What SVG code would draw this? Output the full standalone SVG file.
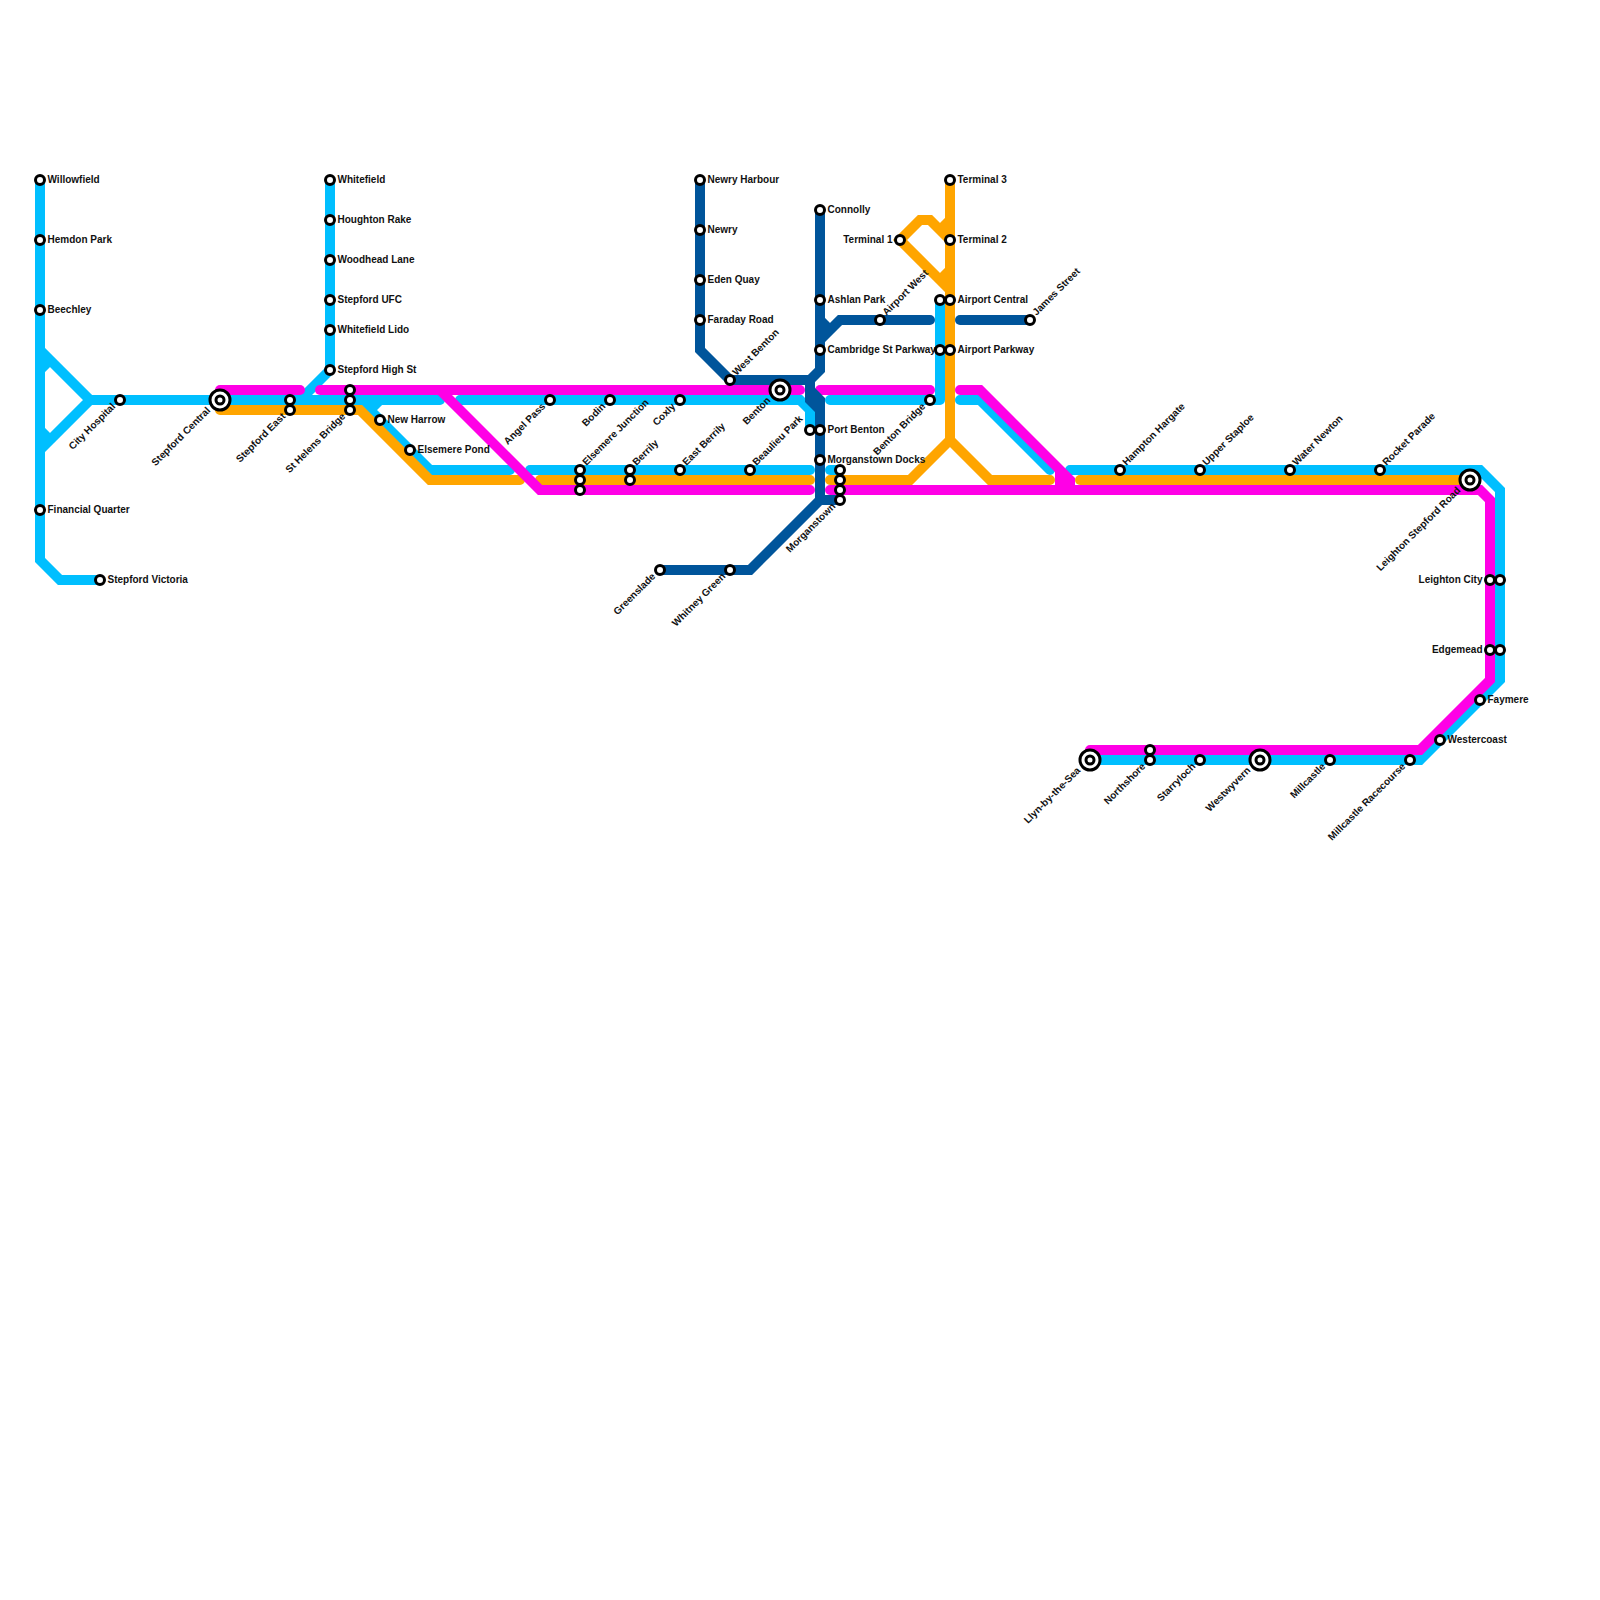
<svg xmlns="http://www.w3.org/2000/svg" width="1600" height="1600" viewBox="0 0 1600 1600">
<style>
.l{fill:none;stroke-width:10;stroke-linecap:round;stroke-linejoin:miter}
.j{stroke-linejoin:round}
.b{stroke:#00bfff}.o{stroke:#ffa500}.m{stroke:#ff00e6}.d{stroke:#00559b}
.s{fill:#fff;stroke:#000;stroke-width:3}
.i{fill:#fff;stroke:#000;stroke-width:3}
.c{fill:#fff;stroke:#000;stroke-width:3}
text{font-family:"Liberation Sans",Arial,sans-serif;font-weight:700;font-size:10px;fill:#111}
.e{text-anchor:end}
</style>
<rect width="1600" height="1600" fill="#fff"/>
<g id="connectors">
<g id="line-blue">
<path class="l b" d="M40 180V560L60 580H100"/>
<path class="l b" d="M40 350L90 400L40 450M40 370L50 360M40 430L50 440"/>
<path class="l b" d="M90 400H440"/>
<path class="l b" d="M330 180V370L300 400"/>
<path class="l b" d="M360 400L430 470H510M370 410L380 400"/>
<path class="l b" d="M460 400H800L810 410V430"/>
<path class="l b" d="M530 470H810"/>
<path class="l b" d="M830 470H840"/>
<path class="l b j" d="M830 400H940V300"/>
<path class="l b" d="M960 400H980L1050 470"/>
<path class="l b" d="M1070 470H1480L1500 490V680L1420 760H1090"/>
</g>
<g id="line-orange">
<path class="l o" d="M220 410H360L430 480H520"/>
<path class="l o" d="M540 480H810"/>
<path class="l o" d="M830 480H910L950 440L990 480H1050"/>
<path class="l o" d="M950 180V440"/>
<path class="l o" d="M950 240L930 220H920L900 240L950 290M950 220L940 230M950 270L940 280"/>
<path class="l o" d="M1080 480H1470"/>
</g>
<g id="line-magenta">
<path class="l m" d="M220 390H300"/>
<path class="l m" d="M320 390H800"/>
<path class="l m" d="M440 390L540 490H810"/>
<path class="l m" d="M820 390H930"/>
<path class="l m" d="M960 390H980L1070 480V490M1060 470V490"/>
<path class="l m" d="M830 490H1480L1490 500V680L1420 750H1090"/>
</g>
<g id="line-dark">
<path class="l d" d="M700 180V350L730 380H810L820 370V210"/>
<path class="l d" d="M820 340L840 320H930M820 320L830 330"/>
<path class="l d" d="M960 320H1030"/>
<path class="l d" d="M810 380V400L820 410"/>
<path class="l d" d="M810 390L820 400V500L750 570H660"/>
<path class="l d" d="M820 500H840"/>
</g>
</g>
<g id="nodes">
<g id="willowfield"><circle class="s" cx="40" cy="180" r="4.5"/><text x="47.5" y="182.5">Willowfield</text></g>
<g id="hemdon-park"><circle class="s" cx="40" cy="240" r="4.5"/><text x="47.5" y="242.5">Hemdon Park</text></g>
<g id="beechley"><circle class="s" cx="40" cy="310" r="4.5"/><text x="47.5" y="312.5">Beechley</text></g>
<g id="financial-quarter"><circle class="s" cx="40" cy="510" r="4.5"/><text x="47.5" y="512.5">Financial Quarter</text></g>
<g id="stepford-victoria"><circle class="s" cx="100" cy="580" r="4.5"/><text x="107.5" y="582.5">Stepford Victoria</text></g>
<g id="city-hospital"><circle class="s" cx="120" cy="400" r="4.5"/><text class="e" transform="translate(116 407) rotate(-45)">City Hospital</text></g>
<g id="stepford-central"><circle class="i" cx="220" cy="400" r="10"/><circle class="c" cx="220" cy="400" r="4"/><text class="e" transform="translate(211 411) rotate(-45)">Stepford Central</text></g>
<g id="stepford-east"><circle class="s" cx="290" cy="400" r="4.5"/><circle class="s" cx="290" cy="410" r="4.5"/><text class="e" transform="translate(286 417) rotate(-45)">Stepford East</text></g>
<g id="st-helens-bridge"><circle class="s" cx="350" cy="390" r="4.5"/><circle class="s" cx="350" cy="400" r="4.5"/><circle class="s" cx="350" cy="410" r="4.5"/><text class="e" transform="translate(346 417) rotate(-45)">St Helens Bridge</text></g>
<g id="whitefield"><circle class="s" cx="330" cy="180" r="4.5"/><text x="337.5" y="182.5">Whitefield</text></g>
<g id="houghton-rake"><circle class="s" cx="330" cy="220" r="4.5"/><text x="337.5" y="222.5">Houghton Rake</text></g>
<g id="woodhead-lane"><circle class="s" cx="330" cy="260" r="4.5"/><text x="337.5" y="262.5">Woodhead Lane</text></g>
<g id="stepford-ufc"><circle class="s" cx="330" cy="300" r="4.5"/><text x="337.5" y="302.5">Stepford UFC</text></g>
<g id="whitefield-lido"><circle class="s" cx="330" cy="330" r="4.5"/><text x="337.5" y="332.5">Whitefield Lido</text></g>
<g id="stepford-high-st"><circle class="s" cx="330" cy="370" r="4.5"/><text x="337.5" y="372.5">Stepford High St</text></g>
<g id="new-harrow"><circle class="s" cx="380" cy="420" r="4.5"/><text x="387.5" y="422.5">New Harrow</text></g>
<g id="elsemere-pond"><circle class="s" cx="410" cy="450" r="4.5"/><text x="417.5" y="452.5">Elsemere Pond</text></g>
<g id="angel-pass"><circle class="s" cx="550" cy="400" r="4.5"/><text class="e" transform="translate(546 407) rotate(-45)">Angel Pass</text></g>
<g id="bodin"><circle class="s" cx="610" cy="400" r="4.5"/><text class="e" transform="translate(606 407) rotate(-45)">Bodin</text></g>
<g id="coxly"><circle class="s" cx="680" cy="400" r="4.5"/><text class="e" transform="translate(676 407) rotate(-45)">Coxly</text></g>
<g id="benton"><circle class="i" cx="780" cy="390" r="10"/><circle class="c" cx="780" cy="390" r="4"/><text class="e" transform="translate(771 401) rotate(-45)">Benton</text></g>
<g id="west-benton"><circle class="s" cx="730" cy="380" r="4.5"/><text transform="translate(736.5 376) rotate(-45)">West Benton</text></g>
<g id="elsemere-junction"><circle class="s" cx="580" cy="470" r="4.5"/><circle class="s" cx="580" cy="480" r="4.5"/><circle class="s" cx="580" cy="490" r="4.5"/><text transform="translate(586.5 466) rotate(-45)">Elsemere Junction</text></g>
<g id="berrily"><circle class="s" cx="630" cy="470" r="4.5"/><circle class="s" cx="630" cy="480" r="4.5"/><text transform="translate(636.5 466) rotate(-45)">Berrily</text></g>
<g id="east-berrily"><circle class="s" cx="680" cy="470" r="4.5"/><text transform="translate(686.5 466) rotate(-45)">East Berrily</text></g>
<g id="beaulieu-park"><circle class="s" cx="750" cy="470" r="4.5"/><text transform="translate(756.5 466) rotate(-45)">Beaulieu Park</text></g>
<g id="newry-harbour"><circle class="s" cx="700" cy="180" r="4.5"/><text x="707.5" y="182.5">Newry Harbour</text></g>
<g id="newry"><circle class="s" cx="700" cy="230" r="4.5"/><text x="707.5" y="232.5">Newry</text></g>
<g id="eden-quay"><circle class="s" cx="700" cy="280" r="4.5"/><text x="707.5" y="282.5">Eden Quay</text></g>
<g id="faraday-road"><circle class="s" cx="700" cy="320" r="4.5"/><text x="707.5" y="322.5">Faraday Road</text></g>
<g id="greenslade"><circle class="s" cx="660" cy="570" r="4.5"/><text class="e" transform="translate(656 577) rotate(-45)">Greenslade</text></g>
<g id="whitney-green"><circle class="s" cx="730" cy="570" r="4.5"/><text class="e" transform="translate(726 577) rotate(-45)">Whitney Green</text></g>
<g id="morganstown"><circle class="s" cx="840" cy="470" r="4.5"/><circle class="s" cx="840" cy="480" r="4.5"/><circle class="s" cx="840" cy="490" r="4.5"/><circle class="s" cx="840" cy="500" r="4.5"/><text class="e" transform="translate(836 507) rotate(-45)">Morganstown</text></g>
<g id="connolly"><circle class="s" cx="820" cy="210" r="4.5"/><text x="827.5" y="212.5">Connolly</text></g>
<g id="ashlan-park"><circle class="s" cx="820" cy="300" r="4.5"/><text x="827.5" y="302.5">Ashlan Park</text></g>
<g id="cambridge-st-parkway"><circle class="s" cx="820" cy="350" r="4.5"/><text x="827.5" y="352.5">Cambridge St Parkway</text></g>
<g id="port-benton"><circle class="s" cx="810" cy="430" r="4.5"/><circle class="s" cx="820" cy="430" r="4.5"/><text x="827.5" y="432.5">Port Benton</text></g>
<g id="morganstown-docks"><circle class="s" cx="820" cy="460" r="4.5"/><text x="827.5" y="462.5">Morganstown Docks</text></g>
<g id="airport-west"><circle class="s" cx="880" cy="320" r="4.5"/><text transform="translate(886.5 316) rotate(-45)">Airport West</text></g>
<g id="james-street"><circle class="s" cx="1030" cy="320" r="4.5"/><text transform="translate(1036.5 316) rotate(-45)">James Street</text></g>
<g id="benton-bridge"><circle class="s" cx="930" cy="400" r="4.5"/><text class="e" transform="translate(926 407) rotate(-45)">Benton Bridge</text></g>
<g id="terminal-1"><circle class="s" cx="900" cy="240" r="4.5"/><text class="e" x="892.5" y="242.5">Terminal 1</text></g>
<g id="terminal-2"><circle class="s" cx="950" cy="240" r="4.5"/><text x="957.5" y="242.5">Terminal 2</text></g>
<g id="terminal-3"><circle class="s" cx="950" cy="180" r="4.5"/><text x="957.5" y="182.5">Terminal 3</text></g>
<g id="airport-central"><circle class="s" cx="940" cy="300" r="4.5"/><circle class="s" cx="950" cy="300" r="4.5"/><text x="957.5" y="302.5">Airport Central</text></g>
<g id="airport-parkway"><circle class="s" cx="940" cy="350" r="4.5"/><circle class="s" cx="950" cy="350" r="4.5"/><text x="957.5" y="352.5">Airport Parkway</text></g>
<g id="hampton-hargate"><circle class="s" cx="1120" cy="470" r="4.5"/><text transform="translate(1126.5 466) rotate(-45)">Hampton Hargate</text></g>
<g id="upper-staploe"><circle class="s" cx="1200" cy="470" r="4.5"/><text transform="translate(1206.5 466) rotate(-45)">Upper Staploe</text></g>
<g id="water-newton"><circle class="s" cx="1290" cy="470" r="4.5"/><text transform="translate(1296.5 466) rotate(-45)">Water Newton</text></g>
<g id="rocket-parade"><circle class="s" cx="1380" cy="470" r="4.5"/><text transform="translate(1386.5 466) rotate(-45)">Rocket Parade</text></g>
<g id="leighton-stepford-road"><circle class="i" cx="1470" cy="480" r="10"/><circle class="c" cx="1470" cy="480" r="4"/><text class="e" transform="translate(1461 491) rotate(-45)">Leighton Stepford Road</text></g>
<g id="leighton-city"><circle class="s" cx="1490" cy="580" r="4.5"/><circle class="s" cx="1500" cy="580" r="4.5"/><text class="e" x="1482.5" y="582.5">Leighton City</text></g>
<g id="edgemead"><circle class="s" cx="1490" cy="650" r="4.5"/><circle class="s" cx="1500" cy="650" r="4.5"/><text class="e" x="1482.5" y="652.5">Edgemead</text></g>
<g id="faymere"><circle class="s" cx="1480" cy="700" r="4.5"/><text x="1487.5" y="702.5">Faymere</text></g>
<g id="westercoast"><circle class="s" cx="1440" cy="740" r="4.5"/><text x="1447.5" y="742.5">Westercoast</text></g>
<g id="llyn-by-the-sea"><circle class="i" cx="1090" cy="760" r="10"/><circle class="c" cx="1090" cy="760" r="4"/><text class="e" transform="translate(1081 771) rotate(-45)">Llyn-by-the-Sea</text></g>
<g id="northshore"><circle class="s" cx="1150" cy="750" r="4.5"/><circle class="s" cx="1150" cy="760" r="4.5"/><text class="e" transform="translate(1146 767) rotate(-45)">Northshore</text></g>
<g id="starryloch"><circle class="s" cx="1200" cy="760" r="4.5"/><text class="e" transform="translate(1196 767) rotate(-45)">Starryloch</text></g>
<g id="westwyvern"><circle class="i" cx="1260" cy="760" r="10"/><circle class="c" cx="1260" cy="760" r="4"/><text class="e" transform="translate(1251 771) rotate(-45)">Westwyvern</text></g>
<g id="millcastle"><circle class="s" cx="1330" cy="760" r="4.5"/><text class="e" transform="translate(1326 767) rotate(-45)">Millcastle</text></g>
<g id="millcastle-racecourse"><circle class="s" cx="1410" cy="760" r="4.5"/><text class="e" transform="translate(1406 767) rotate(-45)">Millcastle Racecourse</text></g>
</g>
</svg>
